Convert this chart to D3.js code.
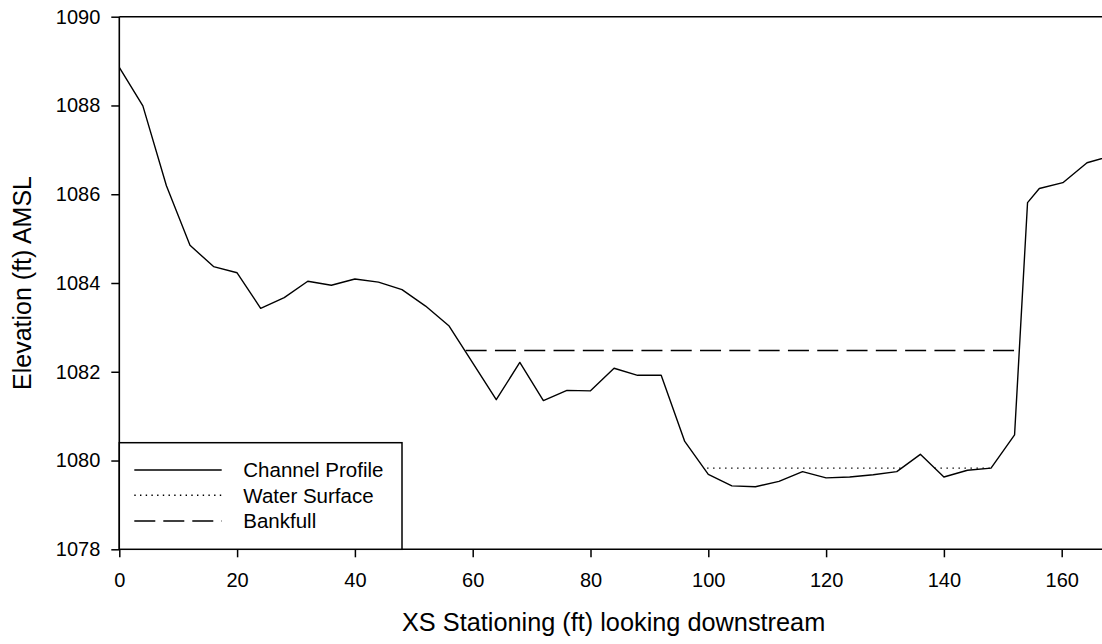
<!DOCTYPE html>
<html>
<head>
<meta charset="utf-8">
<script src="https://cdn.jsdelivr.net/npm/d3@7"></script>
<style>
  html, body { margin: 0; padding: 0; background: #fff; }
  svg { display: block; }
  text { font-family: "Liberation Sans", Arial, Helvetica, sans-serif; fill: #000; }
</style>
</head>
<body>
<svg id="chart" width="1102" height="644"></svg>
<script>
// ---- data ----
const stations = [0, 4, 8, 12, 16, 20, 24, 28, 32, 36, 40, 44, 48, 52, 56, 60, 64, 68, 72, 76, 80, 84, 88, 92, 96, 100, 104, 108, 112, 116, 120, 124, 128, 132, 136, 140, 144, 148, 152, 154.2, 156.2, 160.2, 164.3, 168];
const elevations = [1088.86, 1087.99, 1086.19, 1084.85, 1084.37, 1084.23, 1083.43, 1083.67, 1084.04, 1083.95, 1084.09, 1084.02, 1083.85, 1083.48, 1083.03, 1082.2, 1081.37, 1082.21, 1081.35, 1081.58, 1081.57, 1082.08, 1081.92, 1081.92, 1080.43, 1079.69, 1079.43, 1079.41, 1079.53, 1079.75, 1079.61, 1079.63, 1079.68, 1079.75, 1080.14, 1079.63, 1079.78, 1079.83, 1080.58, 1085.81, 1086.13, 1086.26, 1086.71, 1086.85];
const waterSurfaceX = [99.8, 132.8, null, 138.4, 148.1];
const waterSurfaceY = [1079.83, 1079.83, null, 1079.83, 1079.83];
const bankfullX = [58.8, 152.8];
const bankfullY = [1082.48, 1082.48];
const xTicks = [0, 20, 40, 60, 80, 100, 120, 140, 160];
const yTicks = [1078, 1080, 1082, 1084, 1086, 1088, 1090];
const legendLabels = ["Channel Profile", "Water Surface", "Bankfull"];
const xTitle = "XS Stationing (ft) looking downstream";
const yTitle = "Elevation (ft) AMSL";

// ---- layout ----
const svg = d3.select("#chart");
const plotLeft = 119.3, plotTop = 16.7, plotBottom = 549.3;
const x = d3.scaleLinear().domain([0, 170]).range([plotLeft, plotLeft + 170 * 5.89]);
const y = d3.scaleLinear().domain([1078, 1090]).range([plotBottom, plotTop]);

const line = d3.line()
  .defined(d => d[0] !== null)
  .x(d => x(d[0])).y(d => y(d[1]));

// frame
svg.append("line").attr("x1", plotLeft).attr("x2", 1102).attr("y1", plotTop).attr("y2", plotTop)
  .attr("stroke", "#000").attr("stroke-width", 1.6);
svg.append("line").attr("x1", plotLeft).attr("x2", 1102).attr("y1", plotBottom).attr("y2", plotBottom)
  .attr("stroke", "#000").attr("stroke-width", 1.6);
svg.append("line").attr("x1", plotLeft).attr("x2", plotLeft).attr("y1", plotTop).attr("y2", plotBottom)
  .attr("stroke", "#000").attr("stroke-width", 1.6);

// axes
const xAxis = d3.axisBottom(x).tickValues(xTicks).tickSize(8).tickPadding(16).tickFormat(d3.format("d"));
const gx = svg.append("g").attr("transform", `translate(0,${plotBottom})`).call(xAxis);
gx.select(".domain").remove();
gx.selectAll(".tick line").attr("stroke-width", 1.5);
gx.selectAll("text").attr("font-size", 20).attr("font-family", "Liberation Sans, Arial, sans-serif");

const yAxis = d3.axisLeft(y).tickValues(yTicks).tickSize(8).tickPadding(11).tickFormat(d3.format("d"));
const gy = svg.append("g").attr("transform", `translate(${plotLeft},0)`).call(yAxis);
gy.select(".domain").remove();
gy.selectAll(".tick line").attr("stroke-width", 1.5);
gy.selectAll("text").attr("font-size", 20).attr("font-family", "Liberation Sans, Arial, sans-serif");

// clip to plot area
svg.append("clipPath").attr("id", "clip").append("rect")
  .attr("x", plotLeft).attr("y", plotTop).attr("width", 1102 - plotLeft).attr("height", plotBottom - plotTop);
const plot = svg.append("g").attr("clip-path", "url(#clip)");

const profile = stations.map((s, i) => [s, elevations[i]]);
const water = waterSurfaceX.map((s, i) => [s, waterSurfaceY[i]]);
const bank = bankfullX.map((s, i) => [s, bankfullY[i]]);

plot.append("path").datum(bank).attr("d", line).attr("fill", "none")
  .attr("stroke", "#000").attr("stroke-width", 1.4).attr("stroke-dasharray", "21,8.3");
plot.append("path").datum(water).attr("d", line).attr("fill", "none")
  .attr("stroke", "#000").attr("stroke-width", 1.3).attr("stroke-dasharray", "1.4,4.6");
plot.append("path").datum(profile).attr("d", line).attr("fill", "none")
  .attr("stroke", "#000").attr("stroke-width", 1.4).attr("stroke-linejoin", "round");

// legend
const lg = svg.append("g");
lg.append("rect").attr("x", plotLeft).attr("y", 442.7).attr("width", 402 - plotLeft).attr("height", plotBottom - 442.7)
  .attr("fill", "#fff").attr("stroke", "#000").attr("stroke-width", 1.5);
const dashes = [null, "1.4,4.3", "21,8"];
const rowY = [470, 495.3, 521];
legendLabels.forEach((lab, i) => {
  const l = lg.append("line").attr("x1", 134.3).attr("x2", 221.7).attr("y1", rowY[i]).attr("y2", rowY[i])
    .attr("stroke", "#000").attr("stroke-width", 1.4);
  if (dashes[i]) l.attr("stroke-dasharray", dashes[i]);
  lg.append("text").attr("x", 243.3).attr("y", rowY[i] + 7.3).attr("font-size", 20.5).text(lab);
});

// titles
svg.append("text").attr("x", 402).attr("y", 631).attr("text-anchor", "start")
  .attr("font-size", 25.3).text(xTitle);
svg.append("text").attr("transform", `translate(31,283) rotate(-90)`).attr("text-anchor", "middle")
  .attr("font-size", 25).text(yTitle);
</script>
</body>
</html>
